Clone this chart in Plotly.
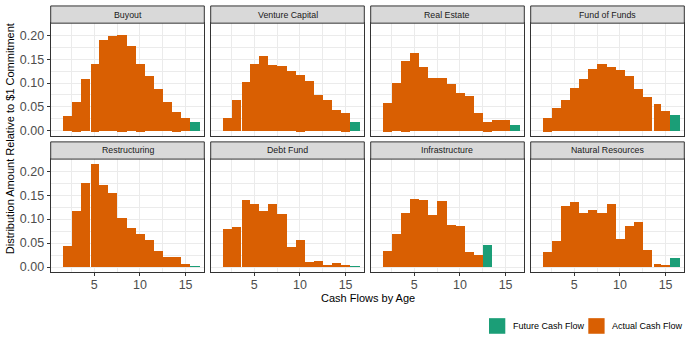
import plotly.graph_objects as go

# ---------------- data ----------------
ages = list(range(2, 17))
panels = ["Buyout", "Venture Capital", "Real Estate", "Fund of Funds",
          "Restructuring", "Debt Fund", "Infrastructure", "Natural Resources"]

N = None
actual = {
    "Buyout":            [0.030, 0.060, 0.109, 0.140, 0.190, 0.199, 0.201, 0.178, 0.140, 0.114, 0.0865, 0.060, 0.039, 0.026, N],
    "Venture Capital":   [0.026, 0.064, 0.101, 0.140, 0.157, 0.138, 0.136, 0.124, 0.116, 0.103, 0.074, 0.064, 0.043, 0.037, N],
    "Real Estate":       [0.0575, 0.099, 0.145, 0.163, 0.134, 0.111, 0.111, 0.097, 0.078, 0.072, 0.037, 0.018, 0.022, 0.022, N],
    "Fund of Funds":     [0.026, 0.047, 0.064, 0.089, 0.109, 0.130, 0.1405, 0.134, 0.126, 0.1135, 0.0865, 0.070, 0.055, 0.041, N],
    "Restructuring":     [0.044, 0.117, 0.175, 0.2146, 0.171, 0.154, 0.1025, 0.082, 0.069, 0.057, 0.034, 0.0215, 0.0215, 0.007, N],
    "Debt Fund":         [0.0796, 0.0838, 0.140, 0.1315, 0.117, 0.1315, 0.111, 0.042, 0.057, 0.011, 0.013, 0.005, 0.009, 0.003, N],
    "Infrastructure":    [0.034, 0.069, 0.113, 0.142, 0.140, 0.109, 0.138, 0.088, 0.086, 0.032, 0.0256, N, N, N, N],
    "Natural Resources": [0.032, 0.055, 0.127, 0.136, 0.113, 0.119, 0.113, 0.1315, 0.059, 0.086, 0.094, 0.036, 0.007, 0.003, N],
}
future = {
    "Buyout":            [N] * 14 + [0.019],
    "Venture Capital":   [N] * 14 + [0.018],
    "Real Estate":       [N] * 14 + [0.012],
    "Fund of Funds":     [N] * 14 + [0.0325],
    "Restructuring":     [N] * 14 + [0.0014],
    "Debt Fund":         [N] * 14 + [0.0015],
    "Infrastructure":    [N] * 11 + [0.046, N, N, N],
    "Natural Resources": [N] * 14 + [0.0194],
}
# small negative actual flows (by age)
negative = {
    "Buyout": {3: -0.002, 5: -0.002, 8: -0.002, 10: -0.002, 14: -0.002},
    "Venture Capital": {10: -0.002, 15: -0.002},
    "Real Estate": {2: -0.002, 4: -0.002, 13: -0.002},
    "Fund of Funds": {2: -0.002},
}
x_ticks = [5, 10, 15]
y_ticks = [0.00, 0.05, 0.10, 0.15, 0.20]

# ---------------- style ----------------
ORANGE = "#D95F02"
GREEN = "#1B9E77"
GRID = "#EBEBEB"
BORDER = "#333333"
FONT = "Liberation Sans, Arial, Helvetica, sans-serif"
W, H = 691, 348
col_x0 = [50.7 + 160 * c for c in range(4)]
PW = 153.6
rows_px = [(23.3, 137.0), (160.0, 274.0)]   # plot area top/bottom (px)
strip_px = [(6.0, 23.3), (142.7, 160.0)]
gap_before = {"Buyout": 5, "Venture Capital": 4, "Fund of Funds": 14,
              "Restructuring": 5, "Debt Fund": 4, "Natural Resources": 14}
XR = [0.22, 17.05]
YR = [-0.0112, 0.2252]
TICK_SIZE = 12.5

fig = go.Figure()
layout = dict(
    width=W, height=H, margin=dict(l=0, r=0, t=0, b=0),
    paper_bgcolor="white", plot_bgcolor="white",
    barmode="relative", bargap=0, bargroupgap=0, showlegend=False,
    font=dict(family=FONT), shapes=[], annotations=[],
)

for i, name in enumerate(panels):
    r, c = divmod(i, 4)
    k = i + 1
    xa = "x" if k == 1 else f"x{k}"
    ya = "y" if k == 1 else f"y{k}"
    widths = [1.0] * len(ages)
    offsets = [-0.5] * len(ages)
    if name in gap_before:
        j = ages.index(gap_before[name])
        widths[j] = 0.85
        offsets[j] = -0.35
    common = dict(xaxis=xa, yaxis=ya, width=widths, offset=offsets,
                  marker_line_width=0, hoverinfo="skip")
    fig.add_trace(go.Bar(x=ages, y=actual[name], marker_color=ORANGE, name="Actual Cash Flow", **common))
    fig.add_trace(go.Bar(x=ages, y=future[name], marker_color=GREEN, name="Future Cash Flow", **common))
    neg = [negative.get(name, {}).get(a) for a in ages]
    fig.add_trace(go.Bar(x=ages, y=neg, marker_color=ORANGE, **common))

    x0 = col_x0[c] / W
    x1 = (col_x0[c] + PW) / W
    top, bot = rows_px[r]
    y0 = (H - bot) / H
    y1 = (H - top) / H
    bottom_row = r == 1
    left_col = c == 0
    layout["xaxis" if k == 1 else f"xaxis{k}"] = dict(
        domain=[x0, x1], range=XR, anchor=ya, tickvals=x_ticks,
        showgrid=True, gridcolor=GRID, gridwidth=1.1,
        minor=dict(dtick=2.5, tick0=0, showgrid=True, gridcolor=GRID, gridwidth=0.6),
        showline=True, mirror=True, linecolor=BORDER, linewidth=1, zeroline=False,
        showticklabels=bottom_row, ticks="outside" if bottom_row else "",
        ticklen=3, tickwidth=1, tickcolor=BORDER, ticklabelstandoff=-2,
        tickfont=dict(size=TICK_SIZE, color="#4D4D4D", family=FONT), fixedrange=True,
    )
    layout["yaxis" if k == 1 else f"yaxis{k}"] = dict(
        domain=[y0, y1], range=YR, anchor=xa, tickvals=y_ticks, tickformat=".2f",
        showgrid=True, gridcolor=GRID, gridwidth=1.1,
        minor=dict(dtick=0.025, tick0=0, showgrid=True, gridcolor=GRID, gridwidth=0.6),
        showline=True, mirror=True, linecolor=BORDER, linewidth=1, zeroline=False,
        showticklabels=left_col, ticks="outside" if left_col else "",
        ticklen=3, tickwidth=1, tickcolor=BORDER,
        tickfont=dict(size=TICK_SIZE, color="#4D4D4D", family=FONT), fixedrange=True,
    )
    st, sb = strip_px[r]
    layout["shapes"].append(dict(
        type="rect", xref="paper", yref="paper", x0=x0, x1=x1,
        y0=(H - sb) / H, y1=(H - st) / H,
        fillcolor="#D9D9D9", line=dict(color=BORDER, width=1), layer="above"))
    layout["annotations"].append(dict(
        text=name, xref="paper", yref="paper", x=(x0 + x1) / 2,
        y=(H - (st + sb) / 2) / H, showarrow=False, xanchor="center", yanchor="middle",
        font=dict(size=8.8, color="#1A1A1A", family=FONT)))

# axis titles
layout["annotations"].append(dict(
    text="Cash Flows by Age", xref="paper", yref="paper", x=367.5 / W, y=(H - 299.5) / H,
    showarrow=False, xanchor="center", yanchor="middle", font=dict(size=11, color="black", family=FONT)))
layout["annotations"].append(dict(
    text="Distribution Amount Relative to $1 Commitment", xref="paper", yref="paper",
    x=10 / W, y=(H - 140) / H, textangle=-90, showarrow=False,
    xanchor="center", yanchor="middle", font=dict(size=11, color="black", family=FONT)))

# legend (drawn manually)
legend_items = [("Future Cash Flow", GREEN, 489.0), ("Actual Cash Flow", ORANGE, 588.3)]
for label, colr, kx in legend_items:
    layout["shapes"].append(dict(
        type="rect", xref="paper", yref="paper", x0=kx / W, x1=(kx + 16.3) / W,
        y0=(H - 335.7) / H, y1=(H - 320) / H, fillcolor=colr, line=dict(width=0)))
    layout["annotations"].append(dict(
        text=label, xref="paper", yref="paper", x=(kx + 21.7) / W, y=(H - 328) / H,
        showarrow=False, xanchor="left", yanchor="middle",
        font=dict(size=9, color="black", family=FONT)))

fig.update_layout(**layout)
fig.write_html("out.html")
